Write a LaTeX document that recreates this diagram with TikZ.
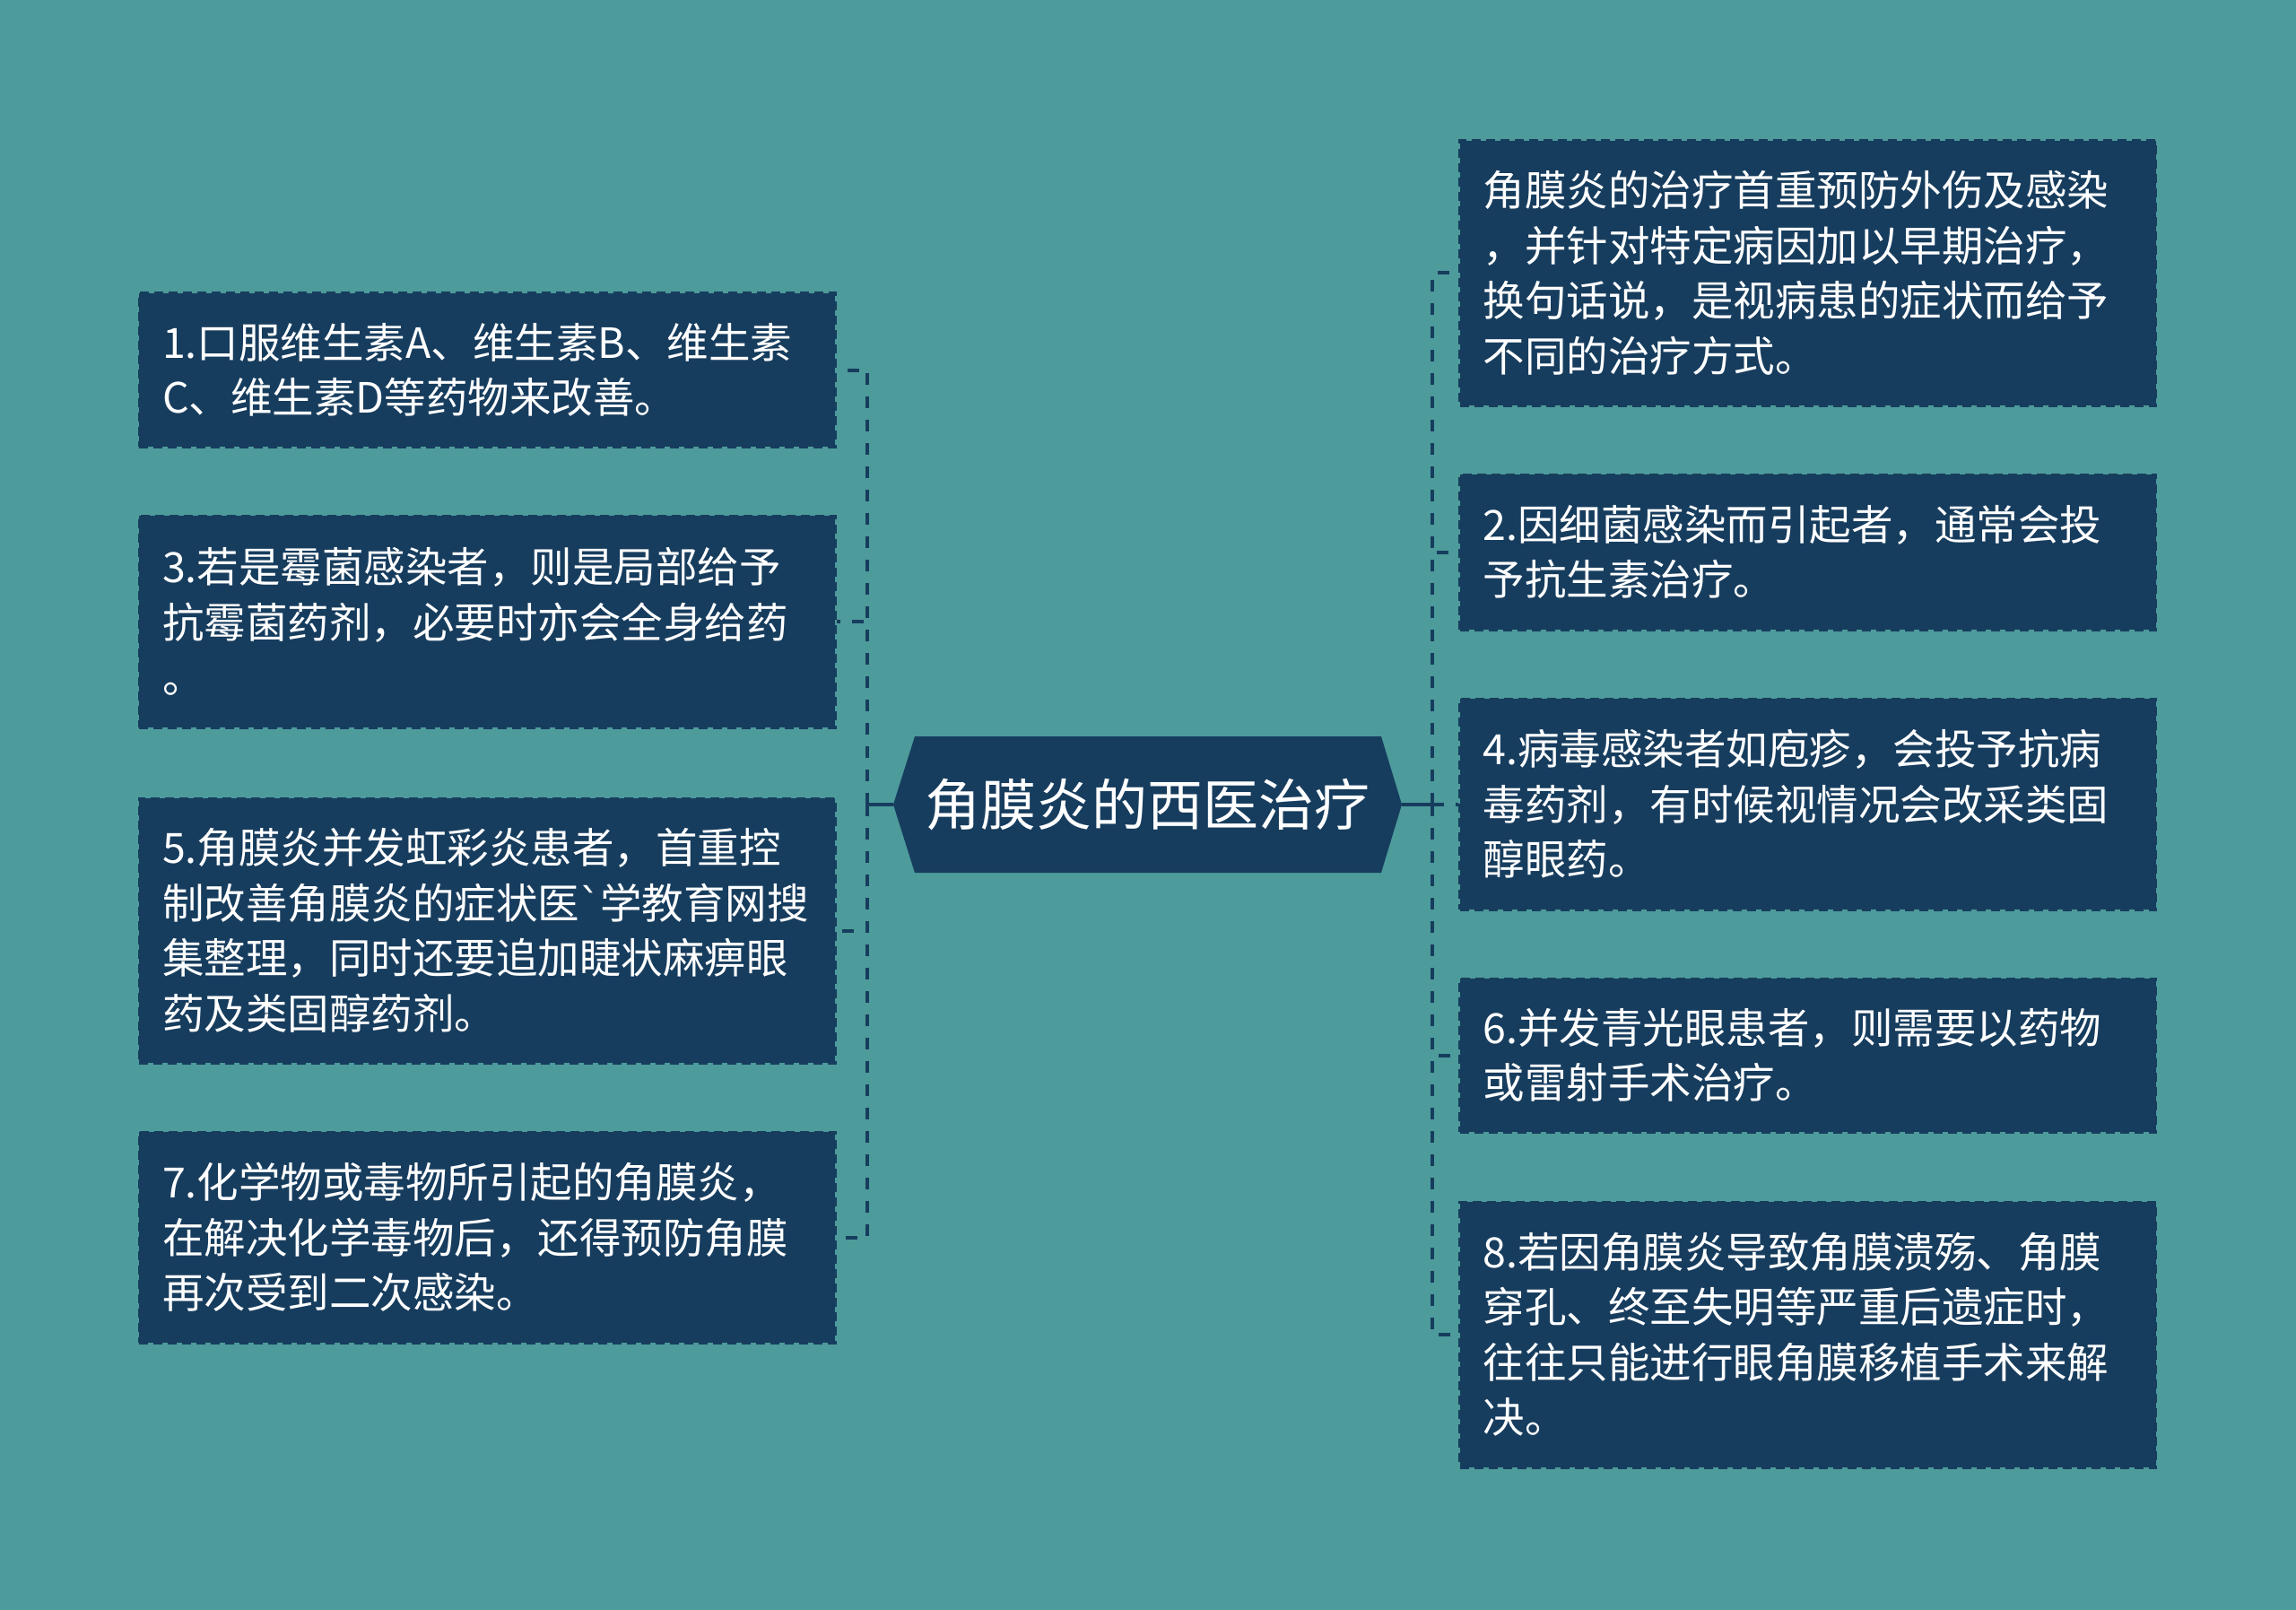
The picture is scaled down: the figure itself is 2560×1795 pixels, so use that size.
\documentclass[tikz,border=0pt]{standalone}
\usepackage{fontspec}
\setmainfont{Noto Sans CJK SC}
\newfontfamily\latinfont{DejaVu Sans}
\definecolor{bgteal}{HTML}{4D9B9B}
\definecolor{navy}{HTML}{173D5E}
\begin{document}
\begin{tikzpicture}[x=1pt,y=-1pt,
  box/.style={fill=navy, draw=navy, dashed, dash pattern=on 10pt off 6pt, line width=3pt,
    text=white, align=left, inner xsep=26pt, inner ysep=0pt,
    minimum width=776pt, text width=724pt,
    font=\fontsize{46.5}{61.5}\selectfont},
  conn/.style={draw=navy, line width=4pt, dash pattern=on 13pt off 13pt}]
\useasboundingbox (0,0) rectangle (2560,1795);
\fill[bgteal] (0,0) rectangle (2560,1795);

% centre hexagon
\fill[navy] (996,897) -- (1020,821) -- (1540,821) -- (1563,897) -- (1540,973) -- (1020,973) -- cycle;
\node[text=white, font=\fontsize{62}{70}\selectfont, minimum width=567pt, minimum height=152pt, inner sep=0pt] (hex) at (1279.5,897) {角膜炎的西医治疗};

% left boxes
\node[box, minimum height=171pt] (l1) at (543,412.5) {1.口服维生素A、维生素B、维生素\\C、维生素D等药物来改善。};
\node[box, minimum height=236pt] (l3) at (543,693) {3.若是霉菌感染者，则是局部给予\\抗霉菌药剂，必要时亦会全身给药\\。};
\node[box, minimum height=295pt] (l5) at (543,1037.5) {5.角膜炎并发虹彩炎患者，首重控\\制改善角膜炎的症状医{\latinfont\char96}学教育网搜\\集整理，同时还要追加睫状麻痹眼\\药及类固醇药剂。};
\node[box, minimum height=235pt] (l7) at (543,1379.5) {7.化学物或毒物所引起的角膜炎，\\在解决化学毒物后，还得预防角膜\\再次受到二次感染。};

% right boxes
\node[box, minimum height=295pt] (r1) at (2015.5,304.5) {角膜炎的治疗首重预防外伤及感染\\，并针对特定病因加以早期治疗，\\换句话说，是视病患的症状而给予\\不同的治疗方式。};
\node[box, minimum height=173pt] (r2) at (2015.5,615.5) {2.因细菌感染而引起者，通常会投\\予抗生素治疗。};
\node[box, minimum height=235pt] (r4) at (2015.5,896.5) {4.病毒感染者如庖疹，会投予抗病\\毒药剂，有时候视情况会改采类固\\醇眼药。};
\node[box, minimum height=171pt] (r6) at (2015.5,1176.5) {6.并发青光眼患者，则需要以药物\\或雷射手术治疗。};
\node[box, minimum height=296pt] (r8) at (2015.5,1488) {8.若因角膜炎导致角膜溃殇、角膜\\穿孔、终至失明等严重后遗症时，\\往往只能进行眼角膜移植手术来解\\决。};

% connectors
\coordinate (lj) at (967,897);
\coordinate (rj) at (1597,897);
\draw[draw=navy, line width=4pt] (hex.west) -- (lj);
\draw[draw=navy, line width=4pt] (hex.east) -- (rj);
\foreach \n in {l1,l3,l5,l7} \draw[conn] (lj) |- (\n.east);
\foreach \n in {r1,r2,r4,r6,r8} \draw[conn] (rj) |- (\n.west);
\end{tikzpicture}
\end{document}
